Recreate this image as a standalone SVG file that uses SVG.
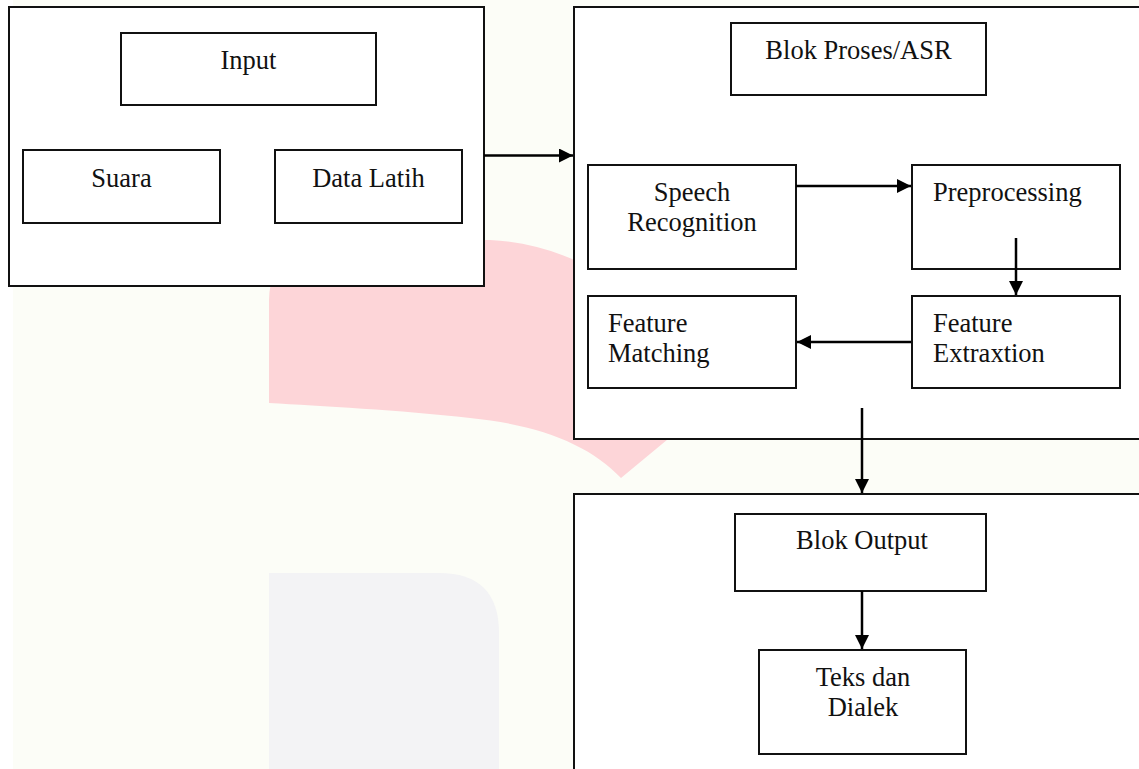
<svg xmlns="http://www.w3.org/2000/svg" width="1139" height="769" viewBox="0 0 1139 769">
<style>
.box{fill:#ffffff;stroke:#111111;stroke-width:2}
.lbl{font-family:"Liberation Serif","Times New Roman",serif;font-size:26.5px;fill:#111111}
.c{text-anchor:middle}
.conn{stroke:#000000;stroke-width:2.5;fill:none}
</style>
<defs>
<marker id="ah" viewBox="0 0 14 14" refX="14" refY="7" markerWidth="14" markerHeight="14" markerUnits="userSpaceOnUse" orient="auto">
<path d="M0,0 L14,7 L0,14 Z" fill="#000000"/>
</marker>
</defs>
<g id="background">
<rect x="0" y="0" width="1139" height="769" fill="#fcfdf7"/>
<rect x="0" y="0" width="13" height="769" fill="#ffffff"/>
<path d="M269,300 C270,255 300,241 370,240 L490,240 C580,244 660,300 720,396 L621,478 C590,445 540,425 470,418 C400,410 320,406 269,403 Z" fill="#fdd5d8"/>
<path d="M269,573 L439,573 Q499,573 499,633 L499,769 L269,769 Z" fill="#f3f3f5"/>
</g>
<g id="input-block">
<rect class="box" x="9" y="7" width="475" height="279"/>
</g>
<g id="input">
<rect class="box" x="121" y="33" width="255" height="72"/>
<text class="lbl c" x="248.5" y="69">Input</text>
</g>
<g id="suara">
<rect class="box" x="23" y="150" width="197" height="73"/>
<text class="lbl c" x="121.5" y="186.5">Suara</text>
</g>
<g id="data-latih">
<rect class="box" x="275" y="150" width="187" height="73"/>
<text class="lbl c" x="368.5" y="186.5">Data Latih</text>
</g>
<g id="asr-block">
<rect class="box" x="574" y="7" width="580" height="432"/>
</g>
<g id="blok-proses">
<rect class="box" x="731" y="23" width="255" height="72"/>
<text class="lbl c" x="858.5" y="59">Blok Proses/ASR</text>
</g>
<g id="speech-recognition">
<rect class="box" x="588" y="165" width="208" height="104"/>
<text class="lbl c" x="692" y="201">Speech</text>
<text class="lbl c" x="692" y="231">Recognition</text>
</g>
<g id="preprocessing">
<rect class="box" x="912" y="165" width="208" height="104"/>
<text class="lbl" x="933" y="201">Preprocessing</text>
</g>
<g id="feature-matching">
<rect class="box" x="588" y="296" width="208" height="92"/>
<text class="lbl" x="608" y="331.5">Feature</text>
<text class="lbl" x="608" y="362">Matching</text>
</g>
<g id="feature-extraxtion">
<rect class="box" x="912" y="296" width="208" height="92"/>
<text class="lbl" x="933" y="331.5">Feature</text>
<text class="lbl" x="933" y="362">Extraxtion</text>
</g>
<g id="output-block">
<rect class="box" x="574" y="494" width="580" height="290"/>
</g>
<g id="blok-output">
<rect class="box" x="735" y="514" width="251" height="77"/>
<text class="lbl c" x="862" y="549">Blok Output</text>
</g>
<g id="teks-dialek">
<rect class="box" x="759" y="650" width="207" height="104"/>
<text class="lbl c" x="863" y="686">Teks dan</text>
<text class="lbl c" x="863" y="716">Dialek</text>
</g>
<g id="connectors">
<line class="conn" x1="484" y1="155.5" x2="573" y2="155.5" marker-end="url(#ah)"/>
<line class="conn" x1="796" y1="186" x2="911" y2="186" marker-end="url(#ah)"/>
<line class="conn" x1="1016" y1="238" x2="1016" y2="295" marker-end="url(#ah)"/>
<line class="conn" x1="911" y1="342" x2="797" y2="342" marker-end="url(#ah)"/>
<line class="conn" x1="862" y1="408" x2="862" y2="493" marker-end="url(#ah)"/>
<line class="conn" x1="862" y1="591" x2="862" y2="649" marker-end="url(#ah)"/>
</g>
</svg>
